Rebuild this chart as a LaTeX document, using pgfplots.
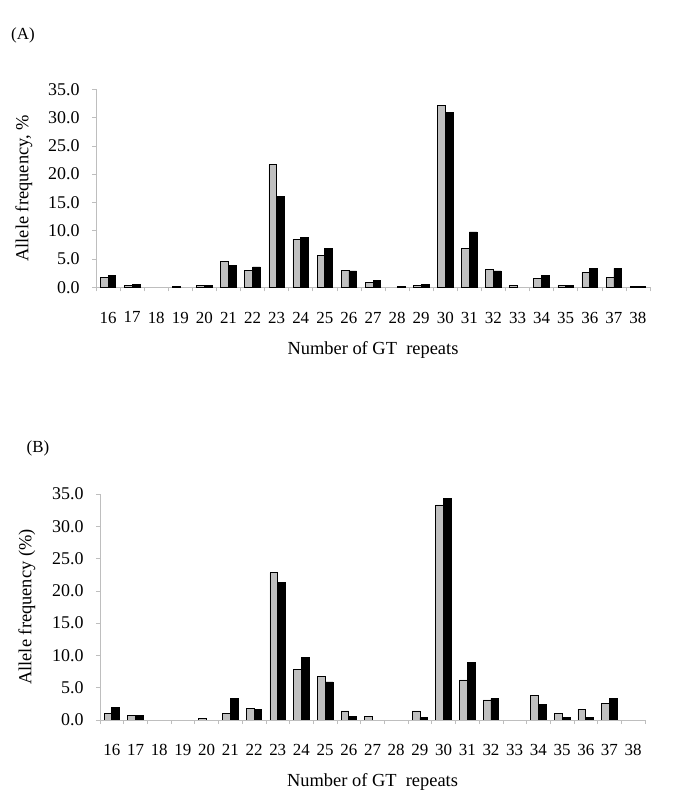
\documentclass[border=0pt]{standalone}
\usepackage{fontspec}
\setmainfont{Liberation Serif}
\usepackage{pgfplots}
\pgfplotsset{compat=1.18}
\definecolor{barsilver}{RGB}{192,192,192}
\definecolor{axisgray}{RGB}{190,190,190}

\pgfplotstableread{
rep grp blk
16 1.8 2.1
17 0.4 0.5
18 nan nan
19 0.2 nan
20 0.3 0.4
21 4.6 3.8
22 3.05 3.6
23 21.7 16.1
24 8.5 8.8
25 5.7 6.8
26 3.05 2.9
27 0.9 1.2
28 nan 0.2
29 0.3 0.5
30 32.1 30.9
31 6.8 9.8
32 3.2 2.9
33 0.3 nan
34 1.5 2.1
35 0.3 0.3
36 2.65 3.35
37 1.8 3.35
38 0.15 0.15
}\dataA

\pgfplotstableread{
rep grp blk
16 1.05 1.9
17 0.75 0.65
18 nan nan
19 nan nan
20 0.3 nan
21 1.05 3.3
22 1.85 1.6
23 22.8 21.3
24 7.8 9.7
25 6.8 5.9
26 1.4 0.6
27 0.5 nan
28 nan nan
29 1.4 0.35
30 33.3 34.3
31 6.2 8.9
32 3.1 3.3
33 nan nan
34 3.8 2.4
35 1.05 0.35
36 1.7 0.35
37 2.6 3.3
38 nan nan
}\dataB

\pgfplotsset{
  gtstyle/.style={
    scale only axis,
    ybar=0pt,
    bar width=7.8bp,
    ymin=0, ymax=35,
    xmin=15.5, xmax=38.5,
    ytick={0,5,...,35},
    xtick={16,...,38},
    minor xtick={15.5,16.5,...,38.5},
    major x tick style={draw=none},
    minor x tick style={axisgray, line width=0.6pt},
    minor tick length=4bp,
    y tick style={axisgray, line width=0.6pt},
    major tick length=4bp,
    tick align=outside,
    axis x line*=bottom,
    axis y line*=left,
    axis line style={axisgray, line width=0.7pt, -},
    /pgf/number format/assume math mode=true,
    yticklabel style={/pgf/number format/fixed, /pgf/number format/fixed zerofill, /pgf/number format/precision=1},
    xticklabel style={yshift=-17bp, font=\fontsize{17}{20}\selectfont},
    yticklabel style={xshift=-9bp, font=\fontsize{18}{21}\selectfont},
    label style={font=\fontsize{18.5}{22}\selectfont},
    unbounded coords=discard,
  },
  grpbar/.style={fill=barsilver, draw=black, line width=0.7pt},
  blkbar/.style={fill=black, draw=black, line width=0.7pt},
}

\begin{document}
\begin{tikzpicture}
\useasboundingbox (0bp,0bp) rectangle (685bp,812bp);

\node[font=\fontsize{17}{20}\selectfont] at (23bp,777bp) {(A)};
\node[font=\fontsize{17}{20}\selectfont] at (38bp,364bp) {(B)};

\begin{axis}[gtstyle,
  at={(96bp,524.7bp)}, anchor=south west,
  width=554bp, height=198bp,
  xlabel={Number of GT\ \ repeats},
  ylabel={Allele frequency, \%},
  xlabel style={at={(axis description cs:0.5,-0.318)}, anchor=center},
  ylabel style={at={(axis description cs:-0.13,0.5)}, anchor=center},
]
\addplot[grpbar] table[x=rep, y=grp] {\dataA};
\addplot[blkbar] table[x=rep, y=blk] {\dataA};
\end{axis}

\begin{axis}[gtstyle,
  at={(100bp,92bp)}, anchor=south west,
  width=545bp, height=226bp,
  xlabel={Number of GT\ \ repeats},
  ylabel={Allele frequency (\%)},
  xlabel style={at={(axis description cs:0.5,-0.275)}, anchor=center},
  ylabel style={at={(axis description cs:-0.134,0.5)}, anchor=center},
]
\addplot[grpbar] table[x=rep, y=grp] {\dataB};
\addplot[blkbar] table[x=rep, y=blk] {\dataB};
\end{axis}
\end{tikzpicture}
\end{document}
